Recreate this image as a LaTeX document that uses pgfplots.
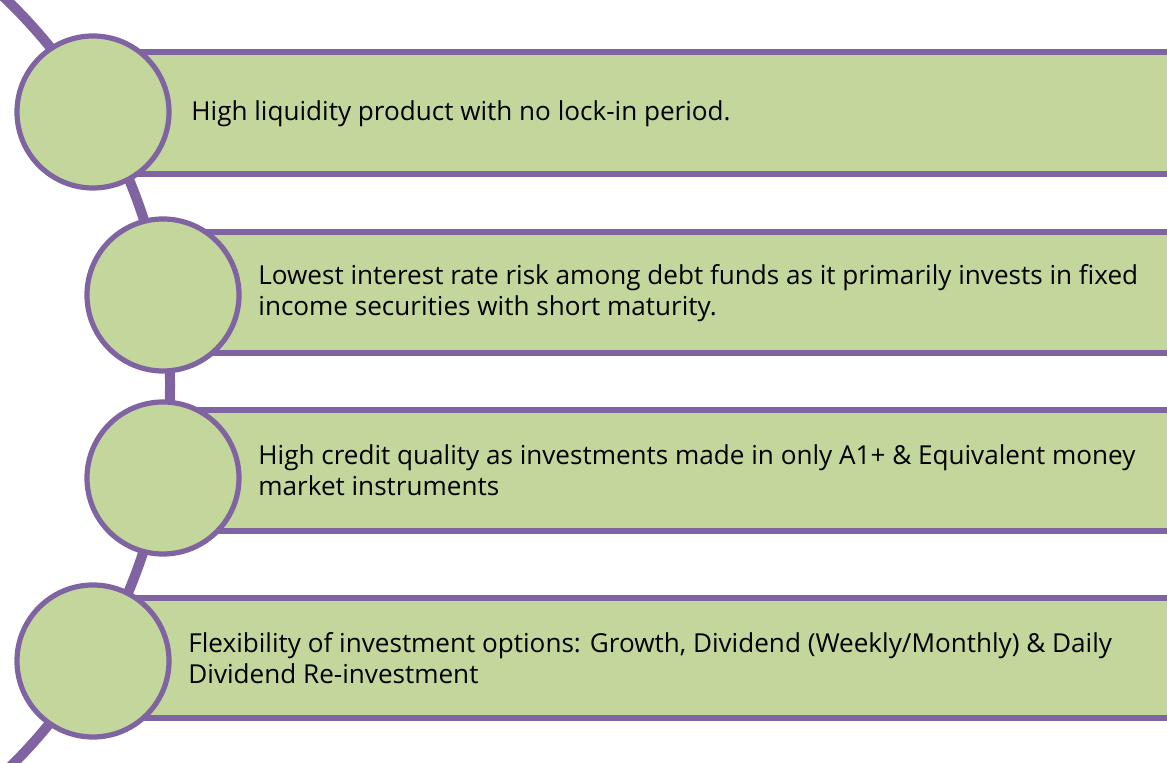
\documentclass[border=0pt]{standalone}
\usepackage{pgfplots}
\pgfplotsset{compat=1.18}
\usepackage{fontspec}
\setmainfont{Open Sans}
\definecolor{LeafGreen}{HTML}{C3D69B}
\definecolor{Plum}{HTML}{8064A2}

\begin{document}
\begin{tikzpicture}
\begin{axis}[name=ax, width=583.5pt, height=381.5pt, scale only axis,
  xmin=0, xmax=1167, ymin=0, ymax=763, y dir=reverse, hide axis, clip=true]
% connector arc behind everything
\draw[Plum, line width=5pt] (axis cs:-366,385) ++(50:268pt) arc[start angle=50, end angle=-50, radius=268pt];
% bars
\addplot[fill=LeafGreen, draw=Plum, line width=2.8pt] coordinates {(93,52) (1185,52) (1185,174) (93,174)} -- cycle;
\addplot[fill=LeafGreen, draw=Plum, line width=2.8pt] coordinates {(163,232) (1185,232) (1185,353) (163,353)} -- cycle;
\addplot[fill=LeafGreen, draw=Plum, line width=2.8pt] coordinates {(163,410) (1185,410) (1185,531) (163,531)} -- cycle;
\addplot[fill=LeafGreen, draw=Plum, line width=2.8pt] coordinates {(93,598) (1185,598) (1185,718) (93,718)} -- cycle;
% circles
\addplot[only marks, mark=*, mark size=38pt,
  mark options={fill=LeafGreen, draw=Plum, line width=2.6pt}]
  coordinates {(93,112) (163,295) (163,478) (93,661)};
% texts
\tikzset{lbl/.style={anchor=west, align=left, inner sep=0pt, font=\fontsize{13.05}{15.3}\selectfont}}
\node[lbl] at (axis cs:191,114)
  {High liquidity product with no lock-in period.};
\node[lbl] at (axis cs:258,293)
  {Lowest interest rate risk among debt funds as it primarily invests in fixed\\income securities with short maturity.};
\node[lbl] at (axis cs:258,470)
  {High credit quality as investments made in only A1+ \& Equivalent money\\market instruments};
\node[lbl] at (axis cs:188,658)
  {Flexibility of investment options: Growth, Dividend (Weekly/Monthly) \& Daily\\Dividend Re-investment};
\end{axis}
\pgfresetboundingbox
\useasboundingbox (ax.south west) rectangle (ax.north east);
\end{tikzpicture}
\end{document}
